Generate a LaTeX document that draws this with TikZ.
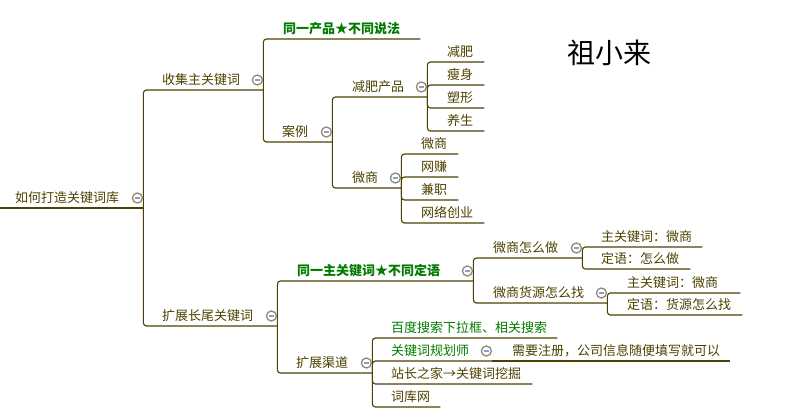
\documentclass[tikz,border=0pt]{standalone}
\usepackage{fontspec}
\setmainfont{Noto Sans CJK SC}
\usetikzlibrary{calc}
\definecolor{mapline}{HTML}{4D4000}
\definecolor{mapgreen}{HTML}{007A00}
\definecolor{foldring}{HTML}{8C8A70}
\definecolor{foldminus}{HTML}{8C9AD8}
\newcommand{\mapfont}{\fontsize{13}{15}\selectfont}

\begin{document}
\begin{tikzpicture}[x=1pt,y=-1pt, every node/.style={font=\mapfont, text=mapline},
    topic/.style={anchor=south west, inner xsep=0pt, inner ysep=0pt, text height=10pt, text depth=5pt, text width=#1, align=left},
    keyline/.style={text=mapgreen, font=\mapfont\bfseries},
    hintline/.style={text=mapgreen},
    link/.style={draw=mapline, line width=1.1pt, rounded corners=3pt},
    fold/.style={circle, draw=foldring, fill=white, line width=1.3pt, minimum size=10pt, inner sep=0pt,
      path picture={\draw[foldminus, line width=1.2pt] ([xshift=-2.6pt]path picture bounding box.center) -- ([xshift=2.6pt]path picture bounding box.center);}}]
    \useasboundingbox (0,0) rectangle (802,412);
    % root
    \coordinate (rootleft) at (0,208);
    \node[topic=128pt] (root) at (15,208) {如何打造关键词库};
    \node[topic=101pt] (collect) at (162,90) {收集主关键词};
    \node[topic=115pt] (extend) at (162,326) {扩展长尾关键词};
    % collect branch
    \node[topic=137pt, keyline] (sameprod) at (283,39) {同一产品★不同说法};
    \node[topic=50pt] (cases) at (282,142) {案例};
    \node[topic=75pt] (slim) at (352,97) {减肥产品};
    \node[topic=49pt] (wechat) at (352,188) {微商};
    \node[topic=37pt] (slim1) at (447,62) {减肥};
    \node[topic=37pt] (slim2) at (447,85) {瘦身};
    \node[topic=37pt] (slim3) at (447,108) {塑形};
    \node[topic=37pt] (slim4) at (447,131) {养生};
    \node[topic=37pt] (wechat1) at (421,154) {微商};
    \node[topic=37pt] (wechat2) at (421,177) {网赚};
    \node[topic=37pt] (wechat3) at (421,200) {兼职};
    \node[topic=63pt] (wechat4) at (421,223) {网络创业};
    % extend branch
    \node[topic=176pt, keyline] (samekey) at (297,281) {同一主关键词★不同定语};
    \node[topic=76pt] (channel) at (296,373) {扩展渠道};
    \node[topic=89pt] (howdo) at (493,258) {微商怎么做};
    \node[topic=114pt] (source) at (493,303) {微商货源怎么找};
    \node[topic=101pt] (howdo1) at (601,247) {主关键词：微商};
    \node[topic=89pt] (howdo2) at (601,269) {定语：怎么做};
    \node[topic=113pt] (source1) at (627,293) {主关键词：微商};
    \node[topic=115pt] (source2) at (627,315) {定语：货源怎么找};
    \node[topic=166pt, hintline] (baidu) at (391,338) {百度搜索下拉框、相关搜索};
    \node[topic=101pt, hintline] (planner) at (391,361) {关键词规划师};
    \node[topic=141pt] (chinaz) at (391,384) {站长之家→关键词挖掘};
    \node[topic=49pt] (ciku) at (391,407) {词库网};
    \node[topic=218pt] (note) at (512,361) {需要注册，公司信息随便填写就可以};
    % title
    \node[font=\fontsize{28}{30}\selectfont, text=black] (author) at (609,53) {祖小来};
    % connectors
    \draw[link] (rootleft) -- (root.south east);
    \foreach \p/\c in {root/collect, root/extend, collect/sameprod, collect/cases,
        cases/slim, cases/wechat, slim/slim1, slim/slim2, slim/slim3, slim/slim4,
        wechat/wechat1, wechat/wechat2, wechat/wechat3, wechat/wechat4,
        extend/samekey, extend/channel, samekey/howdo, samekey/source,
        howdo/howdo1, howdo/howdo2, source/source1, source/source2,
        channel/baidu, channel/planner, channel/chinaz, channel/ciku}
      \draw[link] (\p.south east) |- (\c.south east);
    \draw[link] (planner.south east) -- (note.south east);
    % fold buttons
    \foreach \n in {root, collect, extend, cases, slim, wechat, samekey, channel, howdo, source, planner}
      \node[fold] (\n-fold) at ($(\n.south east)+(-6,-10)$) {};
\end{tikzpicture}
\end{document}
